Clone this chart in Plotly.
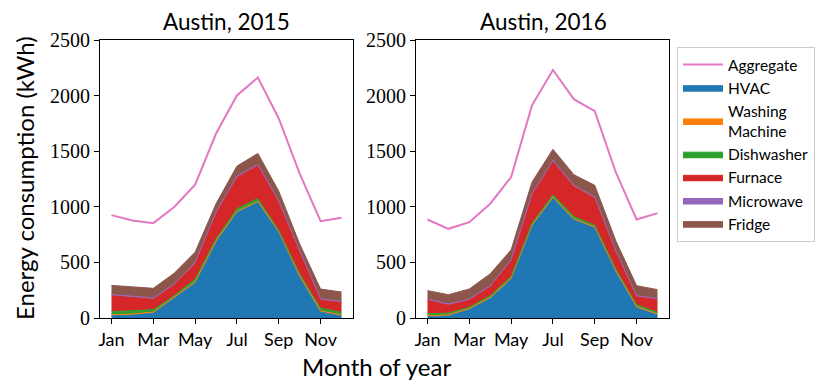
import plotly.graph_objects as go

months = [1, 2, 3, 4, 5, 6, 7, 8, 9, 10, 11, 12]
tick_vals = [1, 3, 5, 7, 9, 11]
tick_text = ["Jan", "Mar", "May", "Jul", "Sep", "Nov"]

# Austin 2015 (kWh)
aggregate_2015 = [925, 877, 853, 998, 1199, 1659, 2001, 2163, 1794, 1298, 871, 901]
hvac_2015 = [20, 28, 45, 180, 315, 685, 950, 1040, 770, 370, 55, 20]
washing_2015 = [9, 8, 8, 7, 8, 8, 8, 9, 8, 7, 9, 8]
dishwasher_2015 = [28, 30, 22, 14, 28, 19, 25, 25, 10, 19, 24, 23]
furnace_2015 = [143, 119, 95, 95, 140, 231, 281, 296, 252, 200, 74, 89]
microwave_2015 = [12, 11, 10, 10, 11, 10, 12, 11, 10, 10, 11, 10]
fridge_2015 = [81, 81, 87, 97, 90, 75, 90, 99, 90, 60, 87, 84]

# Austin 2016 (kWh)
aggregate_2016 = [886, 802, 862, 1028, 1268, 1914, 2230, 1968, 1860, 1313, 886, 943]
hvac_2016 = [12, 21, 78, 177, 350, 830, 1080, 883, 811, 421, 94, 28]
washing_2016 = [8, 7, 7, 8, 8, 8, 8, 8, 8, 7, 8, 8]
dishwasher_2016 = [18, 16, 12, 16, 15, 15, 20, 22, 15, 15, 18, 15]
furnace_2016 = [123, 72, 64, 80, 140, 255, 300, 270, 244, 154, 71, 116]
microwave_2016 = [10, 10, 10, 10, 10, 10, 10, 10, 10, 10, 10, 10]
fridge_2016 = [75, 84, 90, 106, 90, 105, 99, 96, 105, 90, 90, 78]

names = ["HVAC", "Washing<br>Machine", "Dishwasher", "Furnace", "Microwave", "Fridge"]
colors = ["#1f77b4", "#ff7f0e", "#2ca02c", "#d62728", "#9467bd", "#8c564b"]
agg_color = "#e377c2"

years = [
    ("2015", aggregate_2015,
     [hvac_2015, washing_2015, dishwasher_2015, furnace_2015, microwave_2015, fridge_2015]),
    ("2016", aggregate_2016,
     [hvac_2016, washing_2016, dishwasher_2016, furnace_2016, microwave_2016, fridge_2016]),
]

fig = go.Figure()

for i, (year, agg, parts) in enumerate(years):
    xa = "x" if i == 0 else "x2"
    ya = "y" if i == 0 else "y2"
    first = i == 0
    fig.add_trace(go.Scatter(
        x=months, y=agg, mode="lines", name="Aggregate",
        line=dict(color=agg_color, width=2),
        xaxis=xa, yaxis=ya, showlegend=first,
    ))
    for name, col, vals in zip(names, colors, parts):
        fig.add_trace(go.Scatter(
            x=months, y=vals, mode="lines", name=name,
            stackgroup="s" + year, fillcolor=col,
            line=dict(color=col, width=1),
            xaxis=xa, yaxis=ya, showlegend=first,
        ))

W, H = 831, 392
OFF = 8  # page body margin, positions below are in window pixels


def fx(px):
    return (px - OFF) / W


def fy(py):
    return 1 - (py - OFF) / H


y_dom = [fy(318), fy(40)]

axis_common = dict(
    showline=True, mirror=True, linecolor="black", linewidth=1,
    ticks="outside", ticklen=5, tickcolor="black", showgrid=False, zeroline=False,
)
xcommon = dict(axis_common, range=[0.45, 12.55], tickvals=tick_vals, ticktext=tick_text,
               tickfont=dict(family="Lato, DejaVu Sans", size=18, color="black"))
ycommon = dict(axis_common, range=[0, 2500], tickvals=[0, 500, 1000, 1500, 2000, 2500],
               tickfont=dict(family="Liberation Serif", size=20, color="black"))


def label(text, px, py, size, angle=0):
    return dict(text=text, x=fx(px), y=fy(py), xref="paper", yref="paper",
                xanchor="center", yanchor="middle", textangle=angle, showarrow=False,
                font=dict(family="Lato, DejaVu Sans", size=size, color="black"))


fig.update_layout(
    width=W, height=H,
    margin=dict(l=0, r=0, t=0, b=0, autoexpand=False),
    plot_bgcolor="white", paper_bgcolor="white",
    xaxis=dict(xcommon, domain=[fx(100), fx(353)], anchor="y"),
    xaxis2=dict(xcommon, domain=[fx(416), fx(669)], anchor="y2"),
    yaxis=dict(ycommon, domain=y_dom, anchor="x"),
    yaxis2=dict(ycommon, domain=y_dom, anchor="x2"),
    legend=dict(
        x=fx(677), y=fy(47), xanchor="left", yanchor="top",
        traceorder="normal", bordercolor="#cccccc", borderwidth=1,
        font=dict(family="Lato, DejaVu Sans", size=15.5, color="black"),
        itemwidth=40, tracegroupgap=0,
    ),
    annotations=[
        label("Austin, 2015", 226, 22, 22.5),
        label("Austin, 2016", 543, 22, 22.5),
        label("Month of year", 376, 366, 24),
        label("Energy consumption (kWh)", 24, 178, 24, angle=-90),
    ],
)

fig.write_html("out.html")
